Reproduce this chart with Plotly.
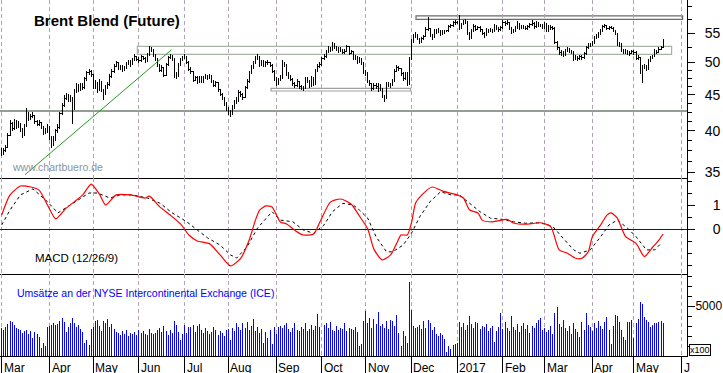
import numpy as np
import pandas as pd
import plotly.graph_objects as go

# ---------------- data ----------------
close = [
    37.3, 37.6, 37.9, 39.4, 41.0, 40.3, 41.3, 40.6, 40.9, 40.2,
    39.4, 40.6, 42.3, 41.6, 41.9, 42.1, 41.2, 40.9, 41.1, 40.6,
    39.8, 40.0, 40.6, 39.2, 38.3, 38.9, 40.0, 40.4, 42.3, 43.4,
    44.5, 44.9, 44.3, 44.6, 43.0, 45.6, 46.3, 45.8, 46.4, 46.0,
    47.4, 48.3, 48.5, 48.0, 46.2, 46.8, 45.7, 46.9, 45.7, 45.2,
    46.1, 46.5, 47.8, 48.6, 49.4, 49.9, 49.0, 49.3, 48.8, 49.1,
    49.8, 50.1, 49.6, 50.4, 50.9, 50.5, 50.3, 50.9, 50.6, 50.2,
    51.3, 52.3, 52.1, 51.2, 50.5, 49.6, 48.7, 49.1, 47.9, 49.6,
    50.8, 51.0, 50.5, 48.2, 47.8, 49.6, 50.4, 50.8, 51.0, 50.0,
    48.9, 48.5, 47.2, 47.6, 46.9, 47.6, 47.0, 47.5, 47.8, 47.5,
    47.9, 47.0, 46.4, 46.8, 45.7, 45.1, 44.6, 43.7, 43.0, 42.5,
    42.4, 43.2, 43.9, 44.2, 45.4, 45.0, 44.6, 46.0, 47.0, 48.3,
    49.2, 49.9, 50.8, 50.9, 49.6, 50.1, 49.5, 49.9, 50.0, 49.5,
    48.6, 47.4, 46.6, 47.2, 47.6, 49.8, 49.6, 48.2, 47.8, 47.3,
    46.6, 46.4, 47.0, 46.2, 46.0, 45.9, 47.4, 47.0, 46.3, 47.5,
    46.6, 48.7, 49.4, 49.6, 50.6, 50.9, 51.8, 52.4, 52.0, 53.1,
    52.5, 52.2, 52.0, 52.1, 51.6, 51.8, 52.6, 51.5, 51.8, 50.6,
    50.9, 50.1, 50.5, 49.8, 48.5, 48.2, 47.0, 46.6, 45.9, 46.4,
    46.2, 46.5, 45.8, 44.8, 44.5, 46.6, 46.4, 46.5, 47.0, 48.6,
    49.2, 49.0, 48.2, 47.4, 48.2, 46.6, 50.4, 53.6, 54.4, 54.8,
    54.0, 53.4, 54.0, 54.4, 55.6, 55.8, 54.6, 54.2, 55.4, 55.2,
    55.5, 54.8, 55.2, 55.3, 55.4, 56.2, 56.3, 56.9, 56.9, 56.9,
    55.9, 56.6, 57.0, 57.1, 55.0, 54.2, 55.4, 56.2, 55.7, 56.0,
    55.6, 55.0, 54.6, 55.6, 55.4, 55.6, 55.3, 56.3, 55.8, 55.6,
    56.0, 56.9, 56.7, 56.9, 55.8, 55.3, 55.4, 55.9, 56.8, 55.9,
    56.2, 56.0, 55.9, 56.1, 56.5, 56.8, 56.1, 56.8, 56.3, 56.4,
    56.0, 56.6, 55.4, 56.1, 56.0, 55.9, 53.3, 52.4, 51.6, 51.6,
    51.2, 51.9, 52.2, 51.8, 51.7, 51.0, 50.7, 50.6, 50.9, 50.8,
    51.4, 52.4, 53.0, 52.9, 53.3, 54.2, 54.4, 54.9, 55.3, 56.2,
    56.3, 55.9, 56.0, 55.9, 55.4, 54.9, 53.0, 53.0, 52.0, 51.7,
    51.9, 51.5, 51.5, 51.8, 51.6, 50.6, 50.8, 48.5, 49.2, 49.4,
    48.9, 50.3, 50.8, 50.9, 51.9, 51.7, 52.2, 52.5, 53.6,
]
high = [
    37.8, 37.9, 38.2, 39.7, 41.5, 41.2, 41.6, 41.4, 41.3, 41.0,
    40.4, 40.9, 43.1, 42.5, 42.3, 42.5, 42.2, 41.4, 41.4, 41.2,
    40.7, 40.4, 40.9, 40.7, 39.4, 39.3, 40.3, 40.9, 42.6, 43.8,
    44.9, 45.3, 45.1, 45.0, 44.7, 45.9, 46.7, 46.6, 46.8, 46.7,
    47.7, 48.6, 48.9, 48.7, 48.1, 47.2, 46.9, 47.3, 47.0, 45.9,
    46.4, 46.9, 48.1, 48.9, 49.7, 50.2, 50.0, 49.6, 49.5, 49.4,
    50.1, 50.4, 50.3, 50.7, 51.3, 51.1, 50.8, 51.2, 51.1, 50.8,
    51.6, 52.8, 52.6, 52.2, 51.4, 50.7, 49.8, 49.5, 49.2, 49.9,
    51.1, 51.4, 51.2, 50.7, 48.5, 49.9, 50.7, 51.1, 51.4, 51.1,
    50.2, 49.2, 48.6, 47.9, 47.8, 47.9, 47.8, 47.8, 48.1, 48.0,
    48.2, 48.0, 47.2, 47.1, 46.9, 45.9, 45.3, 44.7, 43.9, 43.2,
    42.8, 43.5, 44.2, 44.6, 45.7, 45.6, 45.2, 46.3, 47.3, 48.6,
    49.5, 50.2, 51.1, 51.3, 51.0, 50.4, 50.3, 50.2, 50.4, 50.1,
    49.7, 48.8, 47.6, 47.5, 48.0, 50.3, 50.1, 49.8, 48.5, 48.0,
    47.5, 46.9, 47.3, 47.1, 46.5, 46.3, 47.7, 47.7, 47.2, 47.8,
    47.6, 49.0, 49.8, 50.0, 50.9, 51.3, 52.1, 52.7, 52.6, 53.5,
    53.3, 52.8, 52.5, 52.5, 52.3, 52.2, 52.9, 52.8, 52.1, 51.9,
    51.2, 51.0, 50.8, 50.7, 50.0, 48.8, 48.4, 47.2, 46.8, 46.7,
    46.8, 46.8, 46.6, 46.0, 45.0, 46.9, 46.9, 46.8, 47.3, 48.9,
    49.6, 49.4, 49.1, 48.4, 48.5, 48.4, 50.8, 54.0, 54.8, 55.2,
    54.9, 54.2, 54.3, 54.7, 56.0, 57.9, 55.9, 54.9, 55.7, 55.8,
    55.9, 55.6, 55.5, 55.6, 55.6, 56.5, 56.7, 57.2, 57.3, 57.2,
    58.4, 56.9, 57.4, 57.6, 57.2, 55.2, 55.7, 56.6, 56.4, 56.3,
    56.2, 55.8, 55.2, 55.9, 55.8, 55.9, 55.8, 56.6, 56.5, 56.1,
    56.3, 57.3, 57.2, 57.3, 57.0, 56.0, 55.8, 56.2, 57.1, 56.9,
    56.5, 56.4, 56.3, 56.4, 56.8, 57.3, 57.0, 57.1, 57.0, 56.7,
    56.6, 57.0, 56.8, 56.4, 56.4, 56.3, 56.0, 53.6, 52.6, 52.0,
    51.9, 52.2, 52.5, 52.4, 52.1, 51.9, 51.2, 51.0, 51.2, 51.2,
    51.7, 52.7, 53.3, 53.3, 53.6, 54.5, 54.8, 55.2, 55.7, 56.5,
    56.7, 56.5, 56.3, 56.2, 56.1, 55.6, 55.0, 53.4, 53.2, 52.3,
    52.2, 52.1, 51.9, 52.1, 52.0, 51.8, 51.2, 50.9, 49.5, 49.8,
    49.6, 50.6, 51.1, 51.2, 52.2, 52.1, 52.5, 52.8, 53.9,
]
low = [
    36.9, 37.0, 37.4, 37.8, 39.3, 40.0, 40.1, 40.3, 40.4, 39.9,
    39.1, 39.3, 40.5, 41.3, 41.4, 41.7, 40.9, 40.6, 40.7, 40.3,
    39.5, 39.6, 39.8, 38.9, 37.8, 38.1, 38.7, 39.8, 40.2, 42.1,
    43.2, 44.2, 43.9, 44.0, 40.9, 42.8, 45.3, 45.4, 45.5, 45.7,
    45.8, 47.1, 48.0, 47.6, 45.9, 45.9, 45.3, 45.5, 45.4, 44.2,
    45.0, 45.9, 46.3, 47.5, 48.3, 49.2, 48.7, 48.8, 48.4, 48.6,
    48.9, 49.6, 49.3, 49.5, 50.2, 50.2, 49.9, 50.1, 50.3, 49.9,
    50.0, 51.1, 51.7, 50.9, 50.2, 49.3, 48.4, 48.5, 47.6, 47.8,
    49.4, 50.5, 50.2, 47.5, 47.3, 47.7, 49.4, 50.2, 50.5, 49.7,
    48.6, 48.1, 46.9, 47.0, 46.6, 46.8, 46.7, 46.8, 47.3, 47.2,
    47.3, 46.7, 46.1, 46.2, 45.4, 44.8, 44.3, 43.4, 42.7, 42.1,
    41.9, 42.2, 43.0, 43.7, 44.0, 44.7, 44.3, 44.5, 45.8, 46.8,
    48.1, 49.0, 49.7, 50.4, 49.3, 49.4, 49.2, 49.3, 49.6, 49.2,
    48.3, 47.1, 46.3, 46.4, 47.0, 47.4, 49.2, 47.9, 47.4, 47.0,
    46.3, 46.0, 46.2, 45.9, 45.7, 45.6, 45.8, 46.7, 46.0, 46.1,
    46.3, 46.4, 48.5, 49.1, 49.4, 50.3, 50.7, 51.6, 51.7, 51.9,
    52.2, 51.9, 51.6, 51.7, 51.3, 51.4, 51.7, 51.2, 51.3, 50.3,
    50.4, 49.8, 49.9, 49.5, 48.2, 47.9, 46.7, 46.3, 45.6, 45.7,
    45.9, 45.4, 45.5, 44.5, 44.0, 44.4, 46.1, 46.0, 46.3, 46.9,
    48.4, 48.6, 47.9, 47.1, 47.2, 46.3, 46.4, 50.3, 53.3, 54.1,
    53.7, 53.0, 53.2, 53.8, 54.3, 55.3, 54.3, 53.8, 54.1, 54.9,
    55.0, 54.5, 54.6, 54.9, 55.1, 55.2, 55.9, 56.1, 56.5, 56.6,
    55.5, 55.7, 56.4, 56.7, 54.7, 53.8, 54.0, 55.2, 55.4, 55.5,
    55.2, 54.7, 54.2, 54.4, 55.0, 55.1, 55.0, 55.1, 55.5, 55.2,
    55.4, 55.8, 56.3, 56.4, 55.5, 54.9, 55.0, 55.2, 55.7, 55.6,
    55.7, 55.7, 55.6, 55.6, 55.9, 56.3, 55.8, 55.9, 56.0, 56.0,
    55.7, 55.8, 55.1, 55.2, 55.6, 55.5, 53.0, 52.0, 51.2, 51.1,
    50.9, 51.0, 51.7, 51.5, 51.3, 50.2, 50.3, 50.2, 50.4, 50.4,
    50.6, 51.2, 52.2, 52.6, 52.7, 53.1, 53.9, 54.2, 54.7, 55.1,
    55.9, 55.6, 55.6, 55.7, 55.1, 54.6, 52.7, 52.6, 51.7, 51.4,
    51.4, 51.2, 51.1, 51.3, 51.2, 50.3, 50.3, 48.2, 46.8, 48.9,
    48.6, 48.8, 50.1, 50.5, 50.8, 51.4, 51.5, 52.0, 52.4,
]
volume = [
    2800, 2600, 2900, 3200, 3500, 3400, 3100, 2800, 2700, 2600,
    2300, 2500, 2600, 2200, 2500, 1800, 2400, 2200, 1900, 800,
    1300, 1000, 2900, 3000, 3100, 3300, 3100, 3200, 3500, 3800,
    3400, 2400, 2900, 3300, 3800, 3300, 2900, 3100, 2700, 2400,
    1300, 1600, 1100, 2700, 2900, 3500, 3600, 3000, 2500, 3500,
    3300, 3700, 2900, 3200, 2700, 2400, 2300, 2100, 2500, 2200,
    2600, 2000, 2300, 2200, 2400, 2100, 2600, 2300, 2500, 2200,
    2100, 2700, 2300, 2200, 2300, 2600, 2800, 2400, 3000, 2500,
    2100, 2600, 2300, 3500, 3100, 2400, 1600, 2200, 3100, 2300,
    2900, 2900, 3100, 2400, 3000, 3200, 2600, 2300, 2800, 2500,
    2200, 2400, 2900, 2600, 2100, 2500, 2300, 2000, 2600, 2700,
    1600, 2800, 2500, 3300, 2900, 2600, 3300, 2800, 3400, 2600,
    3000, 3700, 2500, 2900, 2300, 2700, 1300, 2400, 1800, 2600,
    1200, 2900, 2200, 2900, 3000, 2800, 3100, 3300, 2700, 2400,
    2800, 3300, 2600, 2500, 2900, 2700, 3300, 2500, 2700, 3100,
    2600, 3000, 4200, 2900, 2900, 3100, 3300, 2800, 3400, 2600,
    2500, 3000, 2600, 2800, 2700, 3300, 2500, 2800, 2700, 2600,
    2900, 2400, 1000, 1200, 3500, 4500, 3300, 3800, 2800, 3700,
    3200, 4400, 3000, 3200, 2800, 3500, 2700, 3600, 3500, 3000,
    4100, 2300, 1000, 2500, 2000, 1300, 7400, 4600, 3000, 2800,
    2900, 3100, 2700, 3500, 2800, 3600, 3300, 2600, 2900, 2200,
    2000, 2300, 2100, 1700, 400, 1000, 700, 1100, 1200, 1300,
    3400, 2900, 3300, 2600, 3100, 4000, 3200, 2800, 3400, 3300,
    2700, 3000, 2900, 3200, 2500, 2800, 3000, 1400, 2500, 2900,
    4300, 2700, 3400, 2800, 2500, 4000, 2900, 2600, 3200, 2400,
    3000, 3300, 2700, 3100, 2300, 3000, 2800, 3300, 3600, 3800,
    2600, 2800, 2400, 2600, 3000, 2200, 4300, 4900, 3200, 2900,
    3600, 2800, 2500, 3000, 2200, 3300, 2700, 2400, 1900, 3400,
    2600, 4300, 3100, 2900, 2500, 3300, 2800, 3500, 3000, 2700,
    3400, 3900, 2600, 1200, 3000, 4100, 4000, 3400, 2600, 1900,
    1600, 3400, 3400, 3600, 1800, 3300, 3700, 5400, 5200, 3900,
    3600, 3400, 2900, 3100, 3300, 3300, 3400, 3500, 3300,
]

# MACD (12/26/9) read at sample trading days
macd_idx = [0, 4, 9, 14, 18, 22, 26, 31, 36, 39, 43, 47, 50, 55, 62, 69, 71, 76, 81, 86,
            90, 94, 100, 105, 110, 115, 119, 122, 124, 127, 130, 134, 137, 142, 145, 150,
            153, 158, 163, 168, 172, 176, 179, 183, 187, 190, 192, 195, 197, 199, 202, 207,
            212, 219, 222, 225, 229, 231, 236, 243, 246, 252, 259, 264, 268, 272, 276, 279,
            282, 284, 288, 291, 293, 296, 300, 305, 309, 313, 316, 318]
macd_val = [0.58, 1.42, 1.79, 1.75, 1.62, 1.0, 0.42, 0.87, 1.21, 1.42, 1.87, 1.45, 1.0, 1.42,
            1.42, 1.29, 1.37, 0.92, 0.58, 0.21, -0.25, -0.5, -0.62, -1.08, -1.54, -1.21,
            -0.46, 0.37, 0.79, 0.96, 0.92, 0.29, 0.21, -0.12, -0.25, -0.21, 0.29, 1.12, 1.25,
            1.04, 0.54, 0.0, -0.85, -1.29, -1.08, -0.58, -0.25, -0.25, 0.25, 1.08, 1.42, 1.75,
            1.58, 1.42, 1.29, 0.79, 0.67, 0.37, 0.3, 0.4, 0.25, 0.2, 0.26, 0.1, -0.87, -1.01,
            -1.22, -1.22, -0.95, -0.32, 0.17, 0.58, 0.67, 0.45, -0.32, -0.6, -1.15, -0.76,
            -0.46, -0.21]
signal_idx = [0, 4, 9, 15, 22, 27, 33, 38, 42, 46, 52, 57, 63, 70, 76, 82, 89, 94, 99, 105,
              110, 113, 118, 123, 128, 130, 134, 140, 145, 150, 155, 159, 164, 169, 172, 176,
              180, 185, 188, 193, 197, 201, 206, 211, 216, 220, 225, 230, 235, 241, 246, 252,
              259, 265, 270, 275, 278, 283, 288, 292, 296, 301, 305, 310, 314, 317]
signal_val = [0.17, 0.79, 1.42, 1.67, 1.14, 0.67, 1.0, 1.29, 1.5, 1.5, 1.29, 1.42, 1.42, 1.29,
              1.08, 0.67, 0.3, -0.04, -0.37, -0.67, -1.08, -1.21, -0.74, 0.04, 0.51, 0.72,
              0.37, 0.3, -0.04, -0.18, 0.17, 0.72, 1.07, 1.0, 0.79, 0.45, -0.32, -0.95, -0.95,
              -0.67, -0.18, 0.51, 1.14, 1.55, 1.42, 1.42, 1.07, 0.72, 0.45, 0.4, 0.3, 0.24,
              0.26, 0.1, -0.39, -0.87, -1.01, -0.87, -0.32, 0.17, 0.37, 0.03, -0.32, -0.87,
              -0.87, -0.6]

month_labels = ["Mar", "Apr", "May", "Jun", "Jul", "Aug", "Sep", "Oct", "Nov", "Dec",
                "2017", "Feb", "Mar", "Apr", "May", "J"]
price_ticks = [35, 40, 45, 50, 55]
price_minor = [36.25, 37.5, 38.75, 41.25, 42.5, 43.75, 46.25, 47.5, 48.75, 52.5, 57.5, 60]
macd_ticks = [0, 1]
macd_minor = [-1.5, -1, -0.5, 0.5, 1.5, 2]
vol_ticks = [5000]
vol_minor = [1000, 2000, 3000, 4000, 6000, 7000, 8000]

# chart-analysis markup (trading-day index, price)
support_level = 42.7
trend_idx = [11.2, 81.7]
trend_price = [34.7, 52.1]
box_x0 = [65.2, 129.5, 199.2]
box_x1 = [322.1, 196.6, 327.4]
box_lo = [51.3, 45.55, 57.5]
box_hi = [52.65, 45.95, 58.15]

# ---------------- build ----------------
n = min(len(close), len(high), len(low))
close, high, low = close[:n], high[:n], low[:n]
opens = [close[0]] + close[:n - 1]
days = pd.bdate_range("2016-03-01", "2017-06-30")
xi = np.arange(n)
vn = min(len(volume), len(days))

month_idx = [0] + [i for i in range(1, len(days)) if days[i].month != days[i - 1].month]
month_idx = month_idx[:len(month_labels)]

FONT = "Liberation Sans, Arial, sans-serif"
PLOT_W, PLOT_H = 687, 356

fig = go.Figure()
fig.add_trace(go.Ohlc(
    x=xi, open=opens, high=high, low=low, close=close,
    increasing=dict(line=dict(color="black", width=1)),
    decreasing=dict(line=dict(color="black", width=1)),
    tickwidth=0.35, xaxis="x", yaxis="y", hoverinfo="skip", showlegend=False))
fig.add_trace(go.Scatter(x=trend_idx, y=trend_price, mode="lines",
                         line=dict(color="#1f9e1f", width=1), xaxis="x", yaxis="y",
                         hoverinfo="skip", showlegend=False))
fig.add_trace(go.Scatter(x=signal_idx, y=signal_val, mode="lines",
                         line=dict(color="black", width=1, dash="3px,3px"),
                         xaxis="x2", yaxis="y2", hoverinfo="skip", showlegend=False))
fig.add_trace(go.Scatter(x=macd_idx, y=macd_val, mode="lines", line_shape="spline",
                         line=dict(color="#ff0000", width=1.2, smoothing=0.6),
                         xaxis="x2", yaxis="y2", hoverinfo="skip", showlegend=False))
fig.add_trace(go.Bar(x=xi[:vn], y=volume[:vn], width=0.48,
                     marker=dict(color="rgba(0,0,255,0.99)", line=dict(width=0)),
                     xaxis="x3", yaxis="y3", hoverinfo="skip", showlegend=False))

shapes = []
shapes.append(dict(type="line", xref="x domain", x0=0, x1=1, yref="y", y0=support_level, y1=support_level,
                   line=dict(color="#6f7d6f", width=1.5), layer="below"))
box_colors = ["#a6b3a6", "#a0a0a0", "#6a6a6a"]
for x0, x1, lo, hi, c in zip(box_x0, box_x1, box_lo, box_hi, box_colors):
    shapes.append(dict(type="rect", xref="x", yref="y", x0=x0, x1=x1, y0=lo, y1=hi,
                       line=dict(color=c, width=1.2), layer="below"))

xcommon = dict(range=[-0.82, 329.5], tickmode="array", tickvals=month_idx, showgrid=True,
               gridcolor="#b2a4b2", griddash="4px,3px", gridwidth=1, zeroline=False,
               showticklabels=False, showline=True, linecolor="black", linewidth=1)
ycommon = dict(side="right", ticks="outside", ticklen=7, tickcolor="black", tickwidth=1,
               showline=True, linecolor="black", linewidth=1, showgrid=False, zeroline=False)

yd_split1 = (PLOT_H - 178) / PLOT_H
yd_split2 = (PLOT_H - 274) / PLOT_H

annotations = [
    dict(text="<b>Brent Blend (Future)</b>", xref="paper", yref="paper", x=32.0 / PLOT_W,
         y=1 - 20 / PLOT_H, xanchor="left", yanchor="middle", showarrow=False,
         font=dict(family=FONT, size=15, color="black")),
    dict(text="www.chartbuero.de", xref="paper", yref="paper", x=10.0 / PLOT_W,
         y=(PLOT_H - 167) / PLOT_H, xanchor="left", yanchor="middle", showarrow=False,
         font=dict(family=FONT, size=10.5, color="#8a94a0")),
    dict(text="MACD (12/26/9)", xref="paper", yref="paper", x=33.0 / PLOT_W,
         y=(PLOT_H - 258) / PLOT_H, xanchor="left", yanchor="middle", showarrow=False,
         font=dict(family=FONT, size=11.5, color="black")),
    dict(text="Umsätze an der NYSE Intercontinental Exchange (ICE)", xref="paper", yref="paper",
         x=15.0 / PLOT_W, y=(PLOT_H - 293) / PLOT_H, xanchor="left", yanchor="middle",
         showarrow=False, font=dict(family=FONT, size=10.5, color="#0000ff")),
    dict(text="x100", xref="paper", yref="paper", x=699.5 / PLOT_W, y=(PLOT_H - 349.5) / PLOT_H,
         xanchor="center", yanchor="middle", showarrow=False, bordercolor="black",
         borderwidth=1, borderpad=0, bgcolor="white",
         font=dict(family=FONT, size=9, color="black")),
]
for mi, lab in zip(month_idx, month_labels):
    annotations.append(dict(text=lab, xref="x3", yref="paper", x=mi, xshift=0,
                            y=(PLOT_H - 358.5) / PLOT_H, xanchor="left", yanchor="top",
                            showarrow=False, font=dict(family=FONT, size=12, color="black")))

fig.update_layout(
    width=723, height=373, margin=dict(l=0, r=36, t=0, b=17, pad=0),
    paper_bgcolor="white", plot_bgcolor="white", showlegend=False, bargap=0,
    xaxis=dict(domain=[0, 1], anchor="y", rangeslider=dict(visible=False), **xcommon),
    xaxis2=dict(domain=[0, 1], anchor="y2", matches="x", **xcommon),
    xaxis3=dict(domain=[0, 1], anchor="y3", matches="x", **{**xcommon, "ticks": "outside",
                                                              "ticklen": 17, "tickcolor": "black"}),
    yaxis=dict(domain=[yd_split1, 1], anchor="x", type="log",
               range=[np.log10(34.33), np.log10(61.23)], tickvals=price_ticks,
               minor=dict(tickvals=price_minor, ticklen=4, ticks="outside", tickcolor="black"),
               tickfont=dict(family=FONT, size=14, color="black"), ticklabelstandoff=7,
               **ycommon),
    yaxis2=dict(domain=[yd_split2, yd_split1], anchor="x2", range=[-1.875, 2.125],
                tickvals=macd_ticks,
                minor=dict(tickvals=macd_minor, ticklen=4, ticks="outside", tickcolor="black"),
                tickfont=dict(family=FONT, size=14, color="black"), ticklabelstandoff=15,
                **{**ycommon, "zeroline": True, "zerolinecolor": "#0000ff", "zerolinewidth": 1}),
    yaxis3=dict(domain=[0, yd_split2], anchor="x3", range=[0, 8200], tickvals=vol_ticks,
                minor=dict(tickvals=vol_minor, ticklen=4, ticks="outside", tickcolor="black"),
                tickfont=dict(family=FONT, size=12, color="black"), ticklabelstandoff=-2,
                **ycommon),
    shapes=shapes, annotations=annotations,
)

post = ("document.body.style.margin='0';document.body.style.padding='0';"
        "document.body.style.overflow='hidden';"
        "var s=document.createElement('style');"
        "s.innerHTML='.ohlclayer path{shape-rendering:crispEdges}';"
        "document.head.appendChild(s);")
fig.write_html("out.html", post_script=post, config={"displayModeBar": False})
